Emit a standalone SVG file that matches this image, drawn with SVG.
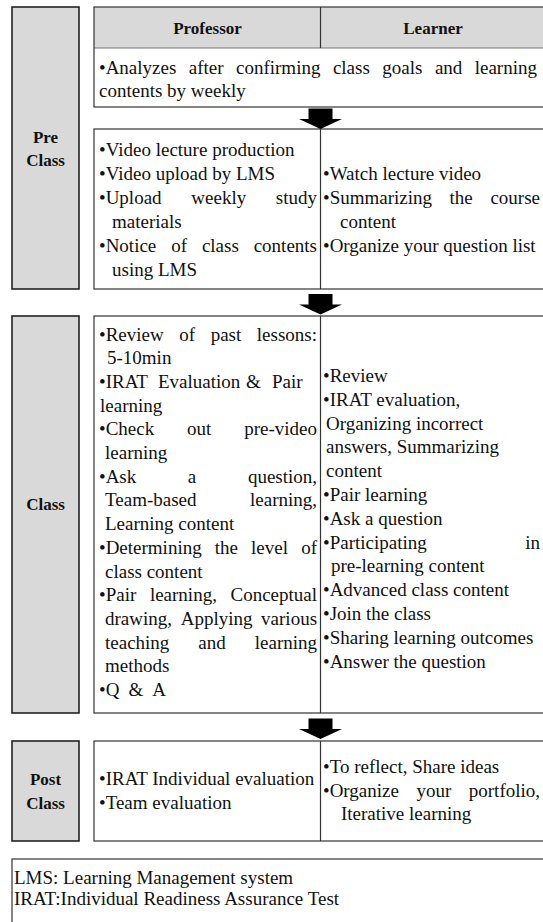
<svg xmlns="http://www.w3.org/2000/svg" width="543" height="922" viewBox="0 0 543 922">
<style>
.t{font-family:"Liberation Serif","Times New Roman",serif;font-size:19px;fill:#111}
.b{font-family:"Liberation Serif","Times New Roman",serif;font-size:17px;font-weight:bold;fill:#111;text-anchor:middle}
.lbl{fill:#d9d9d9;stroke:#222;stroke-width:1.6}
.box{fill:#fff;stroke:#333;stroke-width:1.2}
.frame{fill:none;stroke:#333;stroke-width:1.2}
.div{stroke:#333;stroke-width:1.2}
.arrow{fill:#000}
</style>
<defs>
<path id="arr" d="M-12,0 H12 V10.5 H21.5 L0,20.5 L-21.5,10.5 H-12 Z"/>
</defs>
<rect width="543" height="922" fill="#fff"/>

<g id="pre-label">
<rect class="lbl" x="12" y="7" width="67" height="282"/>
<text class="b" x="45.5" y="142.5">Pre</text>
<text class="b" x="45.5" y="165.5">Class</text>
</g>

<g id="pre-goals">
<rect x="94" y="7" width="454" height="41" fill="#d9d9d9"/>
<line x1="94" y1="48" x2="548" y2="48" stroke="#777" stroke-width="1.2"/>
<line class="div" x1="320.5" y1="7" x2="320.5" y2="48"/>
<rect class="frame" x="94" y="7" width="454" height="100"/>
<text class="b" x="207.5" y="33.5">Professor</text>
<text class="b" x="433" y="33.5">Learner</text>
<text class="t" y="73.5"><tspan x="99">•Analyzes</tspan><tspan x="188.8">after</tspan><tspan x="236">confirming</tspan><tspan x="332.9">class</tspan><tspan x="382.3">goals</tspan><tspan x="434.9">and</tspan><tspan x="474.7">learning</tspan></text>
<text class="t" x="99" y="96.5">contents by weekly</text>
</g>

<g id="pre-activities">
<rect class="box" x="94" y="129" width="454" height="160"/>
<line class="div" x1="320.5" y1="129" x2="320.5" y2="289"/>
<text class="t" x="99" y="156">•Video lecture production</text>
<text class="t" x="99" y="180">•Video upload by LMS</text>
<text class="t" y="204"><tspan x="99">•Upload</tspan><tspan x="191.3">weekly</tspan><tspan x="275.8">study</tspan></text>
<text class="t" x="112" y="228">materials</text>
<text class="t" y="252"><tspan x="99">•Notice</tspan><tspan x="171.2">of</tspan><tspan x="201.9">class</tspan><tspan x="253.7">contents</tspan></text>
<text class="t" x="112" y="276">using LMS</text>
<text class="t" x="323" y="180">•Watch lecture video</text>
<text class="t" y="204"><tspan x="323">•Summarizing</tspan><tspan x="449.6">the</tspan><tspan x="490.4">course</tspan></text>
<text class="t" x="340" y="228">content</text>
<text class="t" x="323" y="252">•Organize your question list</text>
</g>

<g id="class-label">
<rect class="lbl" x="12" y="316" width="67" height="397"/>
<text class="b" x="45.5" y="510">Class</text>
</g>

<g id="class-activities">
<rect class="box" x="94" y="316" width="454" height="397"/>
<line class="div" x1="320.5" y1="316" x2="320.5" y2="713"/>
<text class="t" y="340.5"><tspan x="99">•Review</tspan><tspan x="179.3">of</tspan><tspan x="210.7">past</tspan><tspan x="256.8">lessons:</tspan></text>
<text class="t" x="107" y="364.2">5-10min</text>
<text class="t" y="387.9"><tspan x="99">•IRAT</tspan><tspan x="158">Evaluation</tspan><tspan x="246">&amp;</tspan><tspan x="272">Pair</tspan></text>
<text class="t" x="100" y="411.6">learning</text>
<text class="t" y="435.3"><tspan x="99">•Check</tspan><tspan x="187.1">out</tspan><tspan x="244.2">pre-video</tspan></text>
<text class="t" x="105" y="459">learning</text>
<text class="t" y="482.7"><tspan x="99">•Ask</tspan><tspan x="187.8">a</tspan><tspan x="247.9">question,</tspan></text>
<text class="t" y="506.4"><tspan x="105">Team-based</tspan><tspan x="250">learning,</tspan></text>
<text class="t" x="105" y="530.1">Learning content</text>
<text class="t" y="553.8"><tspan x="99">•Determining</tspan><tspan x="214.8">the</tspan><tspan x="251.1">level</tspan><tspan x="301.2">of</tspan></text>
<text class="t" x="105" y="577.5">class content</text>
<text class="t" y="601.2"><tspan x="99">•Pair</tspan><tspan x="149.9">learning,</tspan><tspan x="230.5">Conceptual</tspan></text>
<text class="t" y="624.9"><tspan x="105">drawing,</tspan><tspan x="180.7">Applying</tspan><tspan x="261.1">various</tspan></text>
<text class="t" y="648.6"><tspan x="105">teaching</tspan><tspan x="198.3">and</tspan><tspan x="254.8">learning</tspan></text>
<text class="t" x="105" y="672.3">methods</text>
<text class="t" y="696"><tspan x="99">•Q</tspan><tspan x="128.4">&amp;</tspan><tspan x="152.2">A</tspan></text>
<text class="t" x="323" y="382">•Review</text>
<text class="t" x="323" y="405.8">•IRAT evaluation,</text>
<text class="t" x="326" y="429.6">Organizing incorrect</text>
<text class="t" x="326" y="453.4">answers, Summarizing</text>
<text class="t" x="326" y="477.2">content</text>
<text class="t" x="323" y="501">•Pair learning</text>
<text class="t" x="323" y="524.8">•Ask a question</text>
<text class="t" y="548.6"><tspan x="323">•Participating</tspan><tspan x="525.2">in</tspan></text>
<text class="t" x="331" y="572.4">pre-learning content</text>
<text class="t" x="323" y="596.2">•Advanced class content</text>
<text class="t" x="323" y="620">•Join the class</text>
<text class="t" x="323" y="643.8">•Sharing learning outcomes</text>
<text class="t" x="323" y="667.6">•Answer the question</text>
</g>

<g id="post-label">
<rect class="lbl" x="12" y="741" width="67" height="100"/>
<text class="b" x="45.5" y="784.5">Post</text>
<text class="b" x="45.5" y="808.5">Class</text>
</g>

<g id="post-activities">
<rect class="box" x="94" y="741" width="454" height="100"/>
<line class="div" x1="320.5" y1="741" x2="320.5" y2="841"/>
<text class="t" x="99" y="785">•IRAT Individual evaluation</text>
<text class="t" x="99" y="808.7">•Team evaluation</text>
<text class="t" x="323" y="773">•To reflect, Share ideas</text>
<text class="t" y="796.7"><tspan x="323">•Organize</tspan><tspan x="416.6">your</tspan><tspan x="468.8">portfolio,</tspan></text>
<text class="t" x="341" y="820.4">Iterative learning</text>
</g>

<g id="legend">
<rect class="box" x="12" y="859" width="540" height="80"/>
<text class="t" x="14" y="884">LMS: Learning Management system</text>
<text class="t" x="14" y="905">IRAT:Individual Readiness Assurance Test</text>
</g>

<g id="connectors">
<use href="#arr" class="arrow" x="320.5" y="108.5"/>
<use href="#arr" class="arrow" x="320.5" y="294"/>
<use href="#arr" class="arrow" x="320.5" y="718.5"/>
</g>
</svg>
